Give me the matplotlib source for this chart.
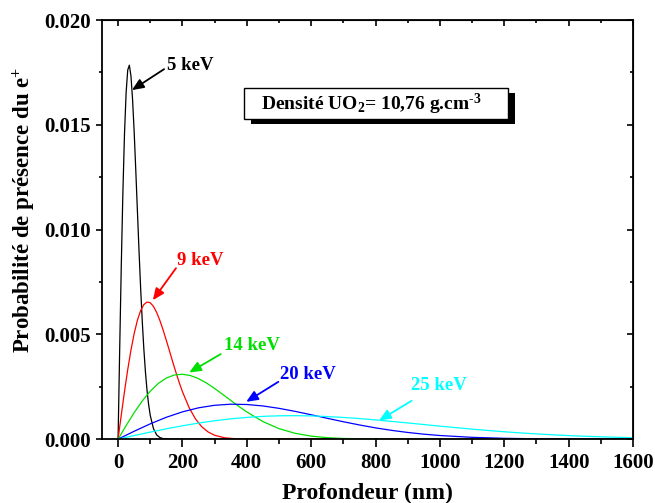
"""Profils d'implantation des positons dans UO2 pour 5 à 25 keV."""

import matplotlib

matplotlib.use("Agg")
import matplotlib.pyplot as plt
from matplotlib.patches import Rectangle

plt.rcParams.update(
    {
        "font.family": "Liberation Serif",
        "font.weight": "bold",
        "mathtext.fontset": "custom",
        "mathtext.rm": "Liberation Serif:bold",
        "mathtext.it": "Liberation Serif:bold:italic",
        "mathtext.bf": "Liberation Serif:bold",
        "mathtext.default": "rm",
    }
)

# profondeur (nm) et probabilité (x1e-3)
Z_5 = [0, 5, 10, 15, 20, 25, 30, 35, 40, 45, 50, 55, 60, 65, 70, 75, 80, 85,
       90, 95, 100, 110, 120, 130, 140, 160, 1600]
P_5 = [0, 4.29, 8.31, 11.81, 14.59, 16.54, 17.62, 17.85, 17.34, 16.22, 14.67,
       12.84, 10.92, 9.02, 7.24, 5.67, 4.32, 3.21, 2.32, 1.64, 1.13, 0.50,
       0.20, 0.074, 0.025, 0.002, 0]

Z_9 = [0, 10, 20, 30, 40, 50, 60, 70, 80, 90, 100, 110, 120, 130, 140, 150,
       160, 170, 180, 190, 200, 220, 240, 260, 280, 300, 330, 360, 400, 1600]
P_9 = [0, 1.159, 2.277, 3.317, 4.247, 5.037, 5.669, 6.132, 6.421, 6.543, 6.508,
       6.334, 6.043, 5.659, 5.207, 4.711, 4.196, 3.677, 3.176, 2.701, 2.266,
       1.527, 0.975, 0.590, 0.339, 0.184, 0.067, 0.022, 0.004, 0]

Z_14 = [0, 25, 50, 75, 100, 125, 150, 175, 200, 225, 250, 275, 300, 325, 350,
        375, 400, 450, 500, 550, 600, 650, 700, 800, 900, 1600]
P_14 = [0, 0.646, 1.262, 1.817, 2.288, 2.658, 2.917, 3.061, 3.096, 3.032,
        2.886, 2.675, 2.419, 2.138, 1.848, 1.564, 1.296, 0.838, 0.501, 0.278,
        0.143, 0.069, 0.031, 0.005, 0.0005, 0]

Z_20 = [0, 50, 100, 150, 200, 250, 300, 350, 400, 450, 500, 550, 600, 650, 700,
        750, 800, 850, 900, 950, 1000, 1100, 1200, 1300, 1400, 1500, 1600]
P_20 = [0, 0.375, 0.729, 1.043, 1.301, 1.494, 1.615, 1.667, 1.652, 1.583,
        1.469, 1.325, 1.163, 0.994, 0.829, 0.676, 0.537, 0.418, 0.318, 0.236,
        0.172, 0.085, 0.039, 0.016, 0.006, 0.002, 0.001]

Z_25 = [0, 50, 100, 150, 200, 250, 300, 350, 400, 450, 500, 550, 600, 650, 700,
        750, 800, 850, 900, 950, 1000, 1050, 1100, 1150, 1200, 1250, 1300, 1350,
        1400, 1450, 1500, 1550, 1600]
P_25 = [0, 0.170, 0.335, 0.492, 0.637, 0.766, 0.877, 0.968, 1.038, 1.086,
        1.113, 1.120, 1.108, 1.078, 1.035, 0.980, 0.916, 0.846, 0.772, 0.696,
        0.620, 0.547, 0.477, 0.412, 0.351, 0.297, 0.249, 0.206, 0.169, 0.137,
        0.111, 0.088, 0.070]

GREEN = "#00E000"
CURVES = [
    ("5 keV", Z_5, P_5, "black"),
    ("9 keV", Z_9, P_9, "red"),
    ("14 keV", Z_14, P_14, GREEN),
    ("20 keV", Z_20, P_20, "blue"),
    ("25 keV", Z_25, P_25, "cyan"),
]
# position du texte, queue et pointe de la flèche (données)
LABELS = {
    "5 keV": ((152, 0.01785), (143, 0.01766), (43, 0.01666)),
    "9 keV": ((182, 0.00852), (180, 0.00816), (108, 0.00663)),
    "14 keV": ((329, 0.00446), (319, 0.00406), (221, 0.00318)),
    "20 keV": ((503, 0.00308), (498, 0.002735), (398, 0.00178)),
    "25 keV": ((909, 0.00255), (912, 0.00183), (811, 0.00089)),
}
XT = list(range(0, 1601, 200))
XM = list(range(100, 1600, 200))
YT = [0.0, 0.005, 0.010, 0.015, 0.020]
YM = [0.0025, 0.0075, 0.0125, 0.0175]

fig = plt.figure(figsize=(6.55, 5.03), dpi=100)
ax = fig.add_axes([0.1557, 0.127, 0.8107, 0.833])

for name, z, p, c in CURVES:
    ax.plot(z, [v * 1e-3 for v in p], color=c, lw=0.9)
    (tx, ty), tail, head = LABELS[name]
    ax.text(tx, ty, name, color=c, fontsize=13.5, fontweight="bold",
            ha="left", va="center")
    ax.annotate("", xy=head, xytext=tail,
                arrowprops=dict(arrowstyle="-|>,head_length=0.7,head_width=0.3",
                                color=c, lw=1.3, shrinkA=0, shrinkB=0))

ax.set_xlim(-50, 1600)
ax.set_ylim(0, 0.020)
ax.set_xticks(XT)
ax.set_xticks(XM, minor=True)
ax.set_yticks(YT)
ax.set_yticks(YM, minor=True)
ax.set_yticklabels([f"{v:.3f}" for v in YT])
for s in ax.spines.values():
    s.set_linewidth(1.3)
ax.tick_params(which="both", labelsize=15, width=1.2, direction="out",
               top=False, right=False)
ax.tick_params(axis="x", which="major", length=6, pad=4)
ax.tick_params(axis="x", which="minor", length=3.5)
ax.tick_params(axis="y", which="major", length=4, pad=4)
ax.tick_params(axis="y", which="minor", length=2.5)
# ticks internes en haut et à droite (style Origin)
sec = ax.secondary_xaxis("top")
sec.set_xticks(XT)
sec.set_xticks(XM, minor=True)
sec.tick_params(which="both", direction="in", labeltop=False, width=1.2)
sec.tick_params(which="major", length=4.5)
sec.tick_params(which="minor", length=2.5)
secy = ax.secondary_yaxis("right")
secy.set_yticks(YT)
secy.set_yticks(YM, minor=True)
secy.tick_params(which="both", direction="in", labelright=False, width=1.2)
secy.tick_params(which="major", length=4.5)
secy.tick_params(which="minor", length=2.5)

ax.set_xlabel("Profondeur (nm)", fontsize=17, fontweight="bold", labelpad=7)
ax.set_ylabel("Probabilité de présence du e$^{+}$", fontsize=16.5,
              fontweight="bold")
ax.yaxis.set_label_coords(-0.1205, 0.5465)

# encadré avec ombre
ax.add_patch(Rectangle((0.2806, 0.751), 0.497, 0.074, transform=ax.transAxes,
                       fc="black", ec="none", zorder=4, clip_on=False))
ax.add_patch(Rectangle((0.2674, 0.763), 0.497, 0.074, transform=ax.transAxes,
                       fc="white", ec="black", lw=1.0, zorder=5, clip_on=False))
ax.text(0.5075, 0.7995, r"Densité UO$_2$= 10,76 g.cm$^{\text{-}3}$",
        transform=ax.transAxes, ha="center", va="center", fontsize=14,
        fontweight="bold", zorder=6)

fig.savefig("out.png", dpi=100)
